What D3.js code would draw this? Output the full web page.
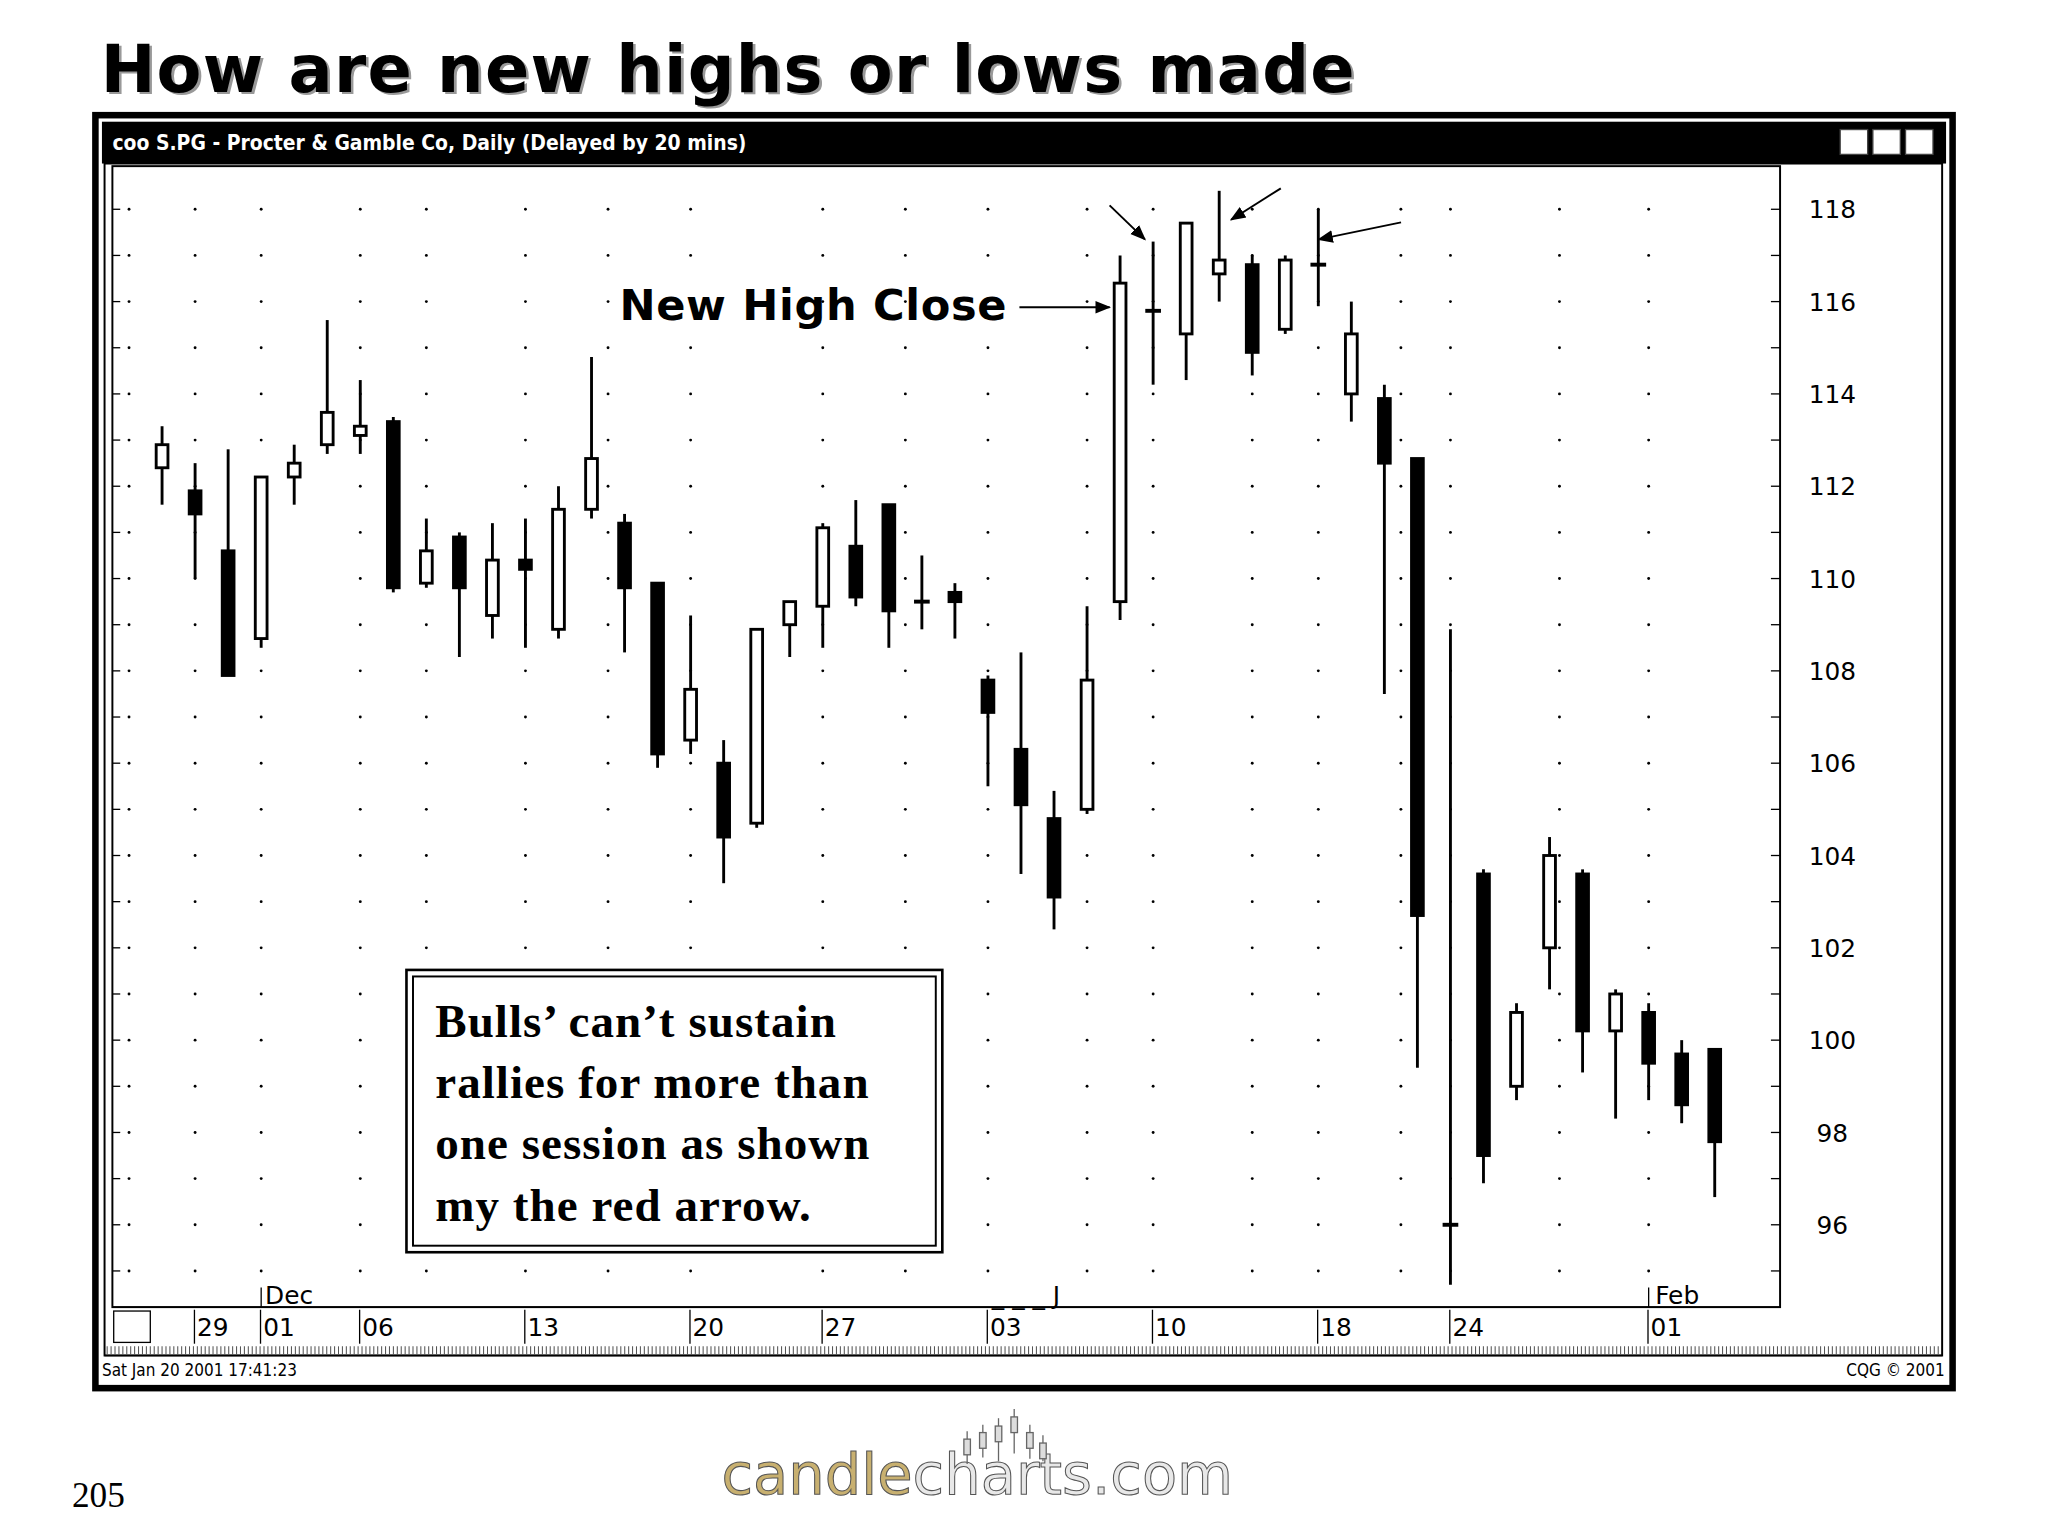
<!DOCTYPE html>
<html><head><meta charset="utf-8">
<script src="https://cdn.jsdelivr.net/npm/d3@7/dist/d3.min.js"></script>
<style>body{margin:0;background:#fff}</style></head>
<body><svg id="c" width="2048" height="1536" viewBox="0 0 1567 1175"></svg>
<script>
const opens  = [112.4,111.9,110.6,108.7,112.2,112.9,113.1,113.4,109.9,110.9,109.2,110.4,108.9,111.5,111.2,109.9,106.5,106.0,104.7,109.0,109.4,110.7,111.6,109.5,109.7,107.8,106.3,104.8,105.0,109.5,115.8,115.3,116.6,116.8,115.4,116.8,114.0,113.9,112.6,96.0,103.6,99.0,102.0,103.6,100.2,100.6,99.7,99.8];
const highs  = [113.3,112.5,112.8,112.2,112.9,115.6,114.3,113.5,111.3,111.0,111.2,111.3,112.0,114.8,111.4,109.9,109.2,106.5,108.9,109.5,111.2,111.7,111.6,110.5,109.9,107.9,108.4,105.4,109.4,117.0,117.3,117.7,118.4,117.0,117.0,118.0,116.0,114.2,112.6,108.9,103.7,100.8,104.4,103.7,101.1,100.8,100.0,99.8];
const lows   = [111.6,110.0,107.9,108.5,111.6,112.7,112.7,109.7,109.8,108.3,108.7,108.5,108.7,111.3,108.4,105.9,106.2,103.4,104.6,108.3,108.5,109.4,108.5,108.9,108.7,105.5,103.6,102.4,104.9,109.1,114.2,114.3,116.0,114.4,115.3,115.9,113.4,107.5,99.4,94.7,96.9,98.7,101.1,99.3,98.3,98.7,98.2,96.6];
const closes = [112.9,111.4,107.9,112.2,112.5,113.6,113.3,109.8,110.6,109.8,110.4,110.2,111.5,112.6,109.8,106.2,107.6,104.4,108.9,109.5,111.1,109.6,109.3,109.5,109.5,107.1,105.1,103.1,107.8,116.4,115.8,117.7,116.9,114.9,116.9,116.8,115.3,112.5,102.7,96.0,97.5,100.6,104.0,100.2,101.0,99.5,98.6,97.8];
const tickIdx = [1,3,6,11,16,20,25,30,35,39,45];
const tickLabels = ["29","01","06","13","20","27","03","10","18","24","01"];
const yTicks = [96,98,100,102,104,106,108,110,112,114,116,118];
const boxLines = ["Bulls’ can’t sustain","rallies for more than","one session as shown","my the red arrow."];

const svg = d3.select("#c");
const x = d3.scaleLinear().domain([0,47]).range([124,1312]);
const y = d3.scaleLinear().domain([96,118]).range([937,160]);

// title
svg.append("text").attr("x",79).attr("y",72).attr("font-family","DejaVu Sans").attr("font-weight","bold").attr("font-size",50).attr("letter-spacing",1).attr("fill","#999").text("How are new highs or lows made");
svg.append("text").attr("x",77).attr("y",70).attr("font-family","DejaVu Sans").attr("font-weight","bold").attr("font-size",50).attr("letter-spacing",1).attr("fill","#000").text("How are new highs or lows made");

// frames
svg.append("rect").attr("x",73).attr("y",88).attr("width",1421).attr("height",974).attr("fill","#fff").attr("stroke","#000").attr("stroke-width",5);
svg.append("rect").attr("x",78).attr("y",93).attr("width",1411).attr("height",32).attr("fill","#000");
svg.append("text").attr("x",86).attr("y",115).attr("fill","#fff").attr("font-family","Liberation Sans Narrow, DejaVu Sans Condensed").attr("font-size",16).attr("font-weight","bold").text("ᴄᴏᴏ S.PG - Procter & Gamble Co, Daily (Delayed by 20 mins)");
[1408,1433,1458].forEach(v=>svg.append("rect").attr("x",v).attr("y",99).attr("width",21).attr("height",19).attr("fill","#fff").attr("stroke","#444"));
svg.append("rect").attr("x",80).attr("y",125).attr("width",1406).attr("height",912).attr("fill","none").attr("stroke","#000").attr("stroke-width",1.5);
svg.append("rect").attr("x",86).attr("y",127).attr("width",1276).attr("height",873).attr("fill","none").attr("stroke","#000").attr("stroke-width",1.5);
for(let i=82;i<1484;i+=3) svg.append("line").attr("x1",i).attr("x2",i).attr("y1",1030).attr("y2",1036).attr("stroke","#555").attr("stroke-width",0.8);
svg.append("line").attr("x1",80).attr("x2",1486).attr("y1",1037).attr("y2",1037).attr("stroke","#000");
svg.append("text").attr("x",78).attr("y",1053).attr("font-family","Liberation Sans Narrow, DejaVu Sans Condensed").attr("font-size",13).text("Sat Jan 20 2001 17:41:23");
svg.append("text").attr("x",1488).attr("y",1053).attr("text-anchor","end").attr("font-family","Liberation Sans Narrow, DejaVu Sans Condensed").attr("font-size",13).text("CQG © 2001");

// dotted grid
const dots = svg.append("g");
const xs = tickIdx.map(i=>x(i)).concat([x(-1),x(8),x(13.5),x(22.5),x(28),x(33),x(37.5),x(42.3)]);
for(let p=95;p<=119;p+=1){ if(y(p)<135||y(p)>995) continue;
  xs.forEach(xx=>dots.append("circle").attr("cx",xx).attr("cy",y(p)).attr("r",1.1).attr("fill","#000"));
  dots.append("line").attr("x1",86).attr("x2",92).attr("y1",y(p)).attr("y2",y(p)).attr("stroke","#000");
  dots.append("line").attr("x1",1355).attr("x2",1362).attr("y1",y(p)).attr("y2",y(p)).attr("stroke","#000");
}
yTicks.forEach(t=>svg.append("text").attr("x",1402).attr("y",y(t)+7).attr("text-anchor","middle").attr("font-family","DejaVu Sans").attr("font-size",19).text(t));

// date axis
svg.append("line").attr("x1",86).attr("x2",1362).attr("y1",1000).attr("y2",1000).attr("stroke","#000");
svg.append("rect").attr("x",87).attr("y",1003).attr("width",28).attr("height",24).attr("fill","none").attr("stroke","#000");
tickIdx.forEach((i,k)=>{const xx=x(i)-0.5;
  svg.append("line").attr("x1",xx).attr("x2",xx).attr("y1",1002).attr("y2",1028).attr("stroke","#000");
  svg.append("text").attr("x",xx+2).attr("y",1022).attr("font-family","DejaVu Sans").attr("font-size",19).text(tickLabels[k]);
});
svg.append("text").attr("x",x(3)+3).attr("y",998).attr("font-family","DejaVu Sans").attr("font-size",19).text("Dec");
svg.append("text").attr("x",x(45)+5).attr("y",998).attr("font-family","DejaVu Sans").attr("font-size",19).text("Feb");
svg.append("text").attr("x",x(25)+3).attr("y",998).attr("font-family","DejaVu Sans").attr("font-size",19).text("_ _ _ J");
svg.append("line").attr("x1",x(3)).attr("x2",x(3)).attr("y1",985).attr("y2",1000).attr("stroke","#000");
svg.append("line").attr("x1",x(45)).attr("x2",x(45)).attr("y1",985).attr("y2",1000).attr("stroke","#000");

// candles
const g = svg.append("g");
const bw = 11;
opens.forEach((o,i)=>{
  const c=closes[i], xx=x(i);
  g.append("line").attr("x1",xx).attr("x2",xx).attr("y1",y(highs[i])).attr("y2",y(lows[i])).attr("stroke","#000").attr("stroke-width",2.2);
  if(Math.abs(o-c)<0.05){
    g.append("line").attr("x1",xx-6).attr("x2",xx+6).attr("y1",y(c)).attr("y2",y(c)).attr("stroke","#000").attr("stroke-width",3);
  } else {
    const top=y(Math.max(o,c)), bot=y(Math.min(o,c));
    g.append("rect").attr("x",xx-bw/2+1).attr("y",top).attr("width",bw-2).attr("height",bot-top)
      .attr("fill",c>o?"#fff":"#000").attr("stroke","#000").attr("stroke-width",2.2);
  }
});

// annotations
svg.append("defs").append("marker").attr("id","ah").attr("viewBox","0 0 10 10").attr("refX",9).attr("refY",5).attr("markerWidth",8).attr("markerHeight",8).attr("orient","auto")
  .append("path").attr("d","M0,1 L10,5 L0,9 Z").attr("fill","#000");
svg.append("text").attr("x",474).attr("y",245).attr("font-family","DejaVu Sans").attr("font-weight","bold").attr("font-size",33).attr("letter-spacing",0.5).text("New High Close");
[[780,235,849,235],[849,157,876,183],[980,144,942,168],[1072,170,1009,183]].forEach(a=>
  svg.append("line").attr("x1",a[0]).attr("y1",a[1]).attr("x2",a[2]).attr("y2",a[3]).attr("stroke","#000").attr("stroke-width",1.5).attr("marker-end","url(#ah)"));

svg.append("rect").attr("x",311).attr("y",742).attr("width",410).attr("height",216).attr("fill","#fff").attr("stroke","#000").attr("stroke-width",2);
svg.append("rect").attr("x",316).attr("y",747).attr("width",400).attr("height",206).attr("fill","none").attr("stroke","#000").attr("stroke-width",1.5);
boxLines.forEach((t,k)=>svg.append("text").attr("x",333).attr("y",793+k*47).attr("font-family","Liberation Serif").attr("font-weight","bold").attr("font-size",36).attr("letter-spacing",0.8).text(t));

// footer
svg.append("text").attr("x",55).attr("y",1153).attr("font-family","Liberation Serif").attr("font-size",27).text("205");
const logo = svg.append("text").attr("x",552).attr("y",1143).attr("font-family","DejaVu Sans").attr("font-size",44).attr("stroke","#555").attr("stroke-width",0.8);
logo.append("tspan").attr("fill","#c8b070").text("candle");
logo.append("tspan").attr("fill","#e8e8e8").text("charts");
logo.append("tspan").attr("fill","#e8e8e8").text(".com");
[[740,1095,1120],[752,1090,1115],[764,1085,1118],[776,1078,1112],[788,1090,1116],[798,1098,1118]].forEach(d=>{
  svg.append("line").attr("x1",d[0]).attr("x2",d[0]).attr("y1",d[1]).attr("y2",d[2]).attr("stroke","#666");
  svg.append("rect").attr("x",d[0]-2.5).attr("y",d[1]+6).attr("width",5).attr("height",12).attr("fill","#ddd").attr("stroke","#666");
});
</script></body></html>
